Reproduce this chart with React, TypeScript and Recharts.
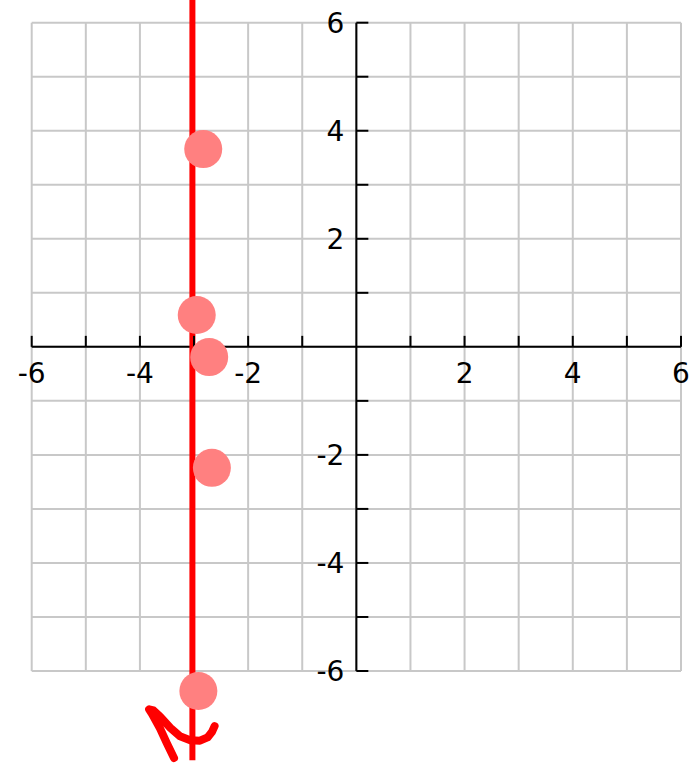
import {
  ComposedChart,
  Scatter,
  Line,
  XAxis,
  YAxis,
  ReferenceLine,
  ReferenceDot,
} from 'recharts'

// grid runs over every whole unit from -6 to 6
const gridTicks = [-6, -5, -4, -3, -2, -1, 0, 1, 2, 3, 4, 5, 6]
const axisTicks = [-6, -5, -4, -3, -2, -1, 1, 2, 3, 4, 5, 6]
const xLabels = [-6, -4, -2, 2, 4, 6]
const yLabels = [6, 4, 2, -2, -4, -6]

// pink dots
const points = [
  { x: -2.83, y: 3.66 },
  { x: -2.95, y: 0.59 },
  { x: -2.72, y: -0.19 },
  { x: -2.67, y: -2.24 },
  { x: -2.92, y: -6.37 },
]

// red vertical line x = -3 (hand placed)
const lineX = -3.03
const lineTop = 6.42
const lineBottom = -7.65

// hand-drawn arrow squiggle at the bottom
const squiggle = [
  { x: -3.37, y: -7.61 },
  { x: -3.5, y: -7.34 },
  { x: -3.63, y: -7.06 },
  { x: -3.78, y: -6.79 },
  { x: -3.83, y: -6.71 },
  { x: -3.75, y: -6.73 },
  { x: -3.63, y: -6.84 },
  { x: -3.44, y: -7.05 },
  { x: -3.26, y: -7.21 },
  { x: -3.07, y: -7.28 },
  { x: -2.89, y: -7.29 },
  { x: -2.75, y: -7.23 },
  { x: -2.67, y: -7.13 },
  { x: -2.62, y: -7.02 },
]

const FONT = '"DejaVu Sans", sans-serif'
const GRID = '#c8c8c8'

const XTick = (props: any) => (
  <line x1={props.cx} y1={props.cy} x2={props.cx} y2={props.cy - 11} stroke="#000" strokeWidth={2} />
)
const YTick = (props: any) => (
  <line x1={props.cx} y1={props.cy} x2={props.cx + 12} y2={props.cy} stroke="#000" strokeWidth={2} />
)
const XLabel = (value: number) => (props: any) => (
  <text x={props.cx} y={props.cy + 36} textAnchor="middle" fontFamily={FONT} fontSize={28} fill="#000">
    {value}
  </text>
)
const YLabel = (value: number) => (props: any) => (
  <text x={props.cx - 12} y={props.cy + 10} textAnchor="end" fontFamily={FONT} fontSize={28} fill="#000">
    {value}
  </text>
)

export default function App() {
  return (
    <div style={{ position: 'absolute', left: 0, top: 0, background: '#fff' }}>
      <ComposedChart width={691} height={763} margin={{ top: 0, right: 0, bottom: 0, left: 0 }}>
        <XAxis type="number" dataKey="x" domain={[-6.586, 6.185]} hide allowDataOverflow />
        <YAxis type="number" dataKey="y" domain={[-7.703, 6.42]} hide allowDataOverflow />
        {gridTicks.map((v) => (
          <ReferenceLine key={'gx' + v} segment={[{ x: v, y: -6 }, { x: v, y: 6 }]} stroke={GRID} strokeWidth={2} />
        ))}
        {gridTicks.map((v) => (
          <ReferenceLine key={'gy' + v} segment={[{ x: -6, y: v }, { x: 6, y: v }]} stroke={GRID} strokeWidth={2} />
        ))}
        <ReferenceLine segment={[{ x: -6, y: 0 }, { x: 6, y: 0 }]} stroke="#000" strokeWidth={2} />
        <ReferenceLine segment={[{ x: 0, y: -6 }, { x: 0, y: 6 }]} stroke="#000" strokeWidth={2} />
        {axisTicks.map((v) => (
          <ReferenceDot key={'tx' + v} x={v} y={0} r={0} shape={XTick} />
        ))}
        {axisTicks.map((v) => (
          <ReferenceDot key={'ty' + v} x={0} y={v} r={0} shape={YTick} />
        ))}
        {xLabels.map((v) => (
          <ReferenceDot key={'lx' + v} x={v} y={0} r={0} shape={XLabel(v)} />
        ))}
        {yLabels.map((v) => (
          <ReferenceDot key={'ly' + v} x={0} y={v} r={0} shape={YLabel(v)} />
        ))}
        <Scatter
          data={points}
          isAnimationActive={false}
          shape={(p: any) => <circle cx={p.cx} cy={p.cy} r={19} fill="#ff8080" />}
        />
        <ReferenceLine
          segment={[{ x: lineX, y: lineTop }, { x: lineX, y: lineBottom }]}
          stroke="#ff0000"
          strokeWidth={6}
        />
        <Line
          data={squiggle}
          dataKey="y"
          type="linear"
          stroke="#ff0000"
          strokeWidth={8}
          strokeLinecap="round"
          strokeLinejoin="round"
          dot={false}
          activeDot={false}
          isAnimationActive={false}
        />
      </ComposedChart>
    </div>
  )
}
